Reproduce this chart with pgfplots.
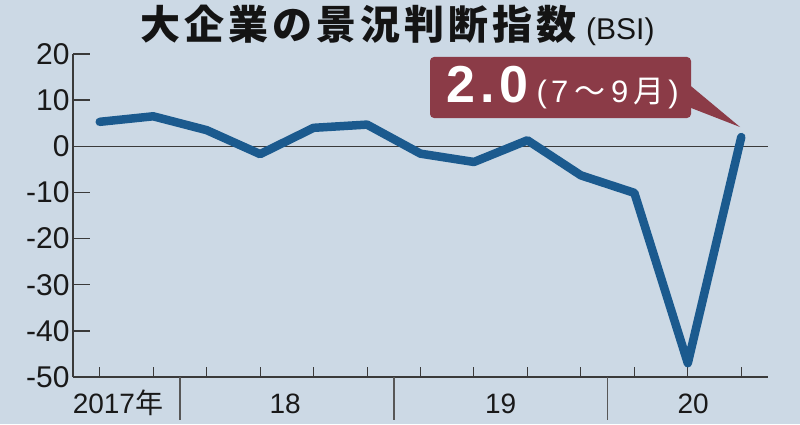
\documentclass[border=0pt]{standalone}
\usepackage{fontspec}
\setmainfont{Liberation Sans}
\newfontfamily\cjk{Noto Sans CJK JP}
\usepackage{pgfplots}
\pgfplotsset{compat=1.18}
\definecolor{bg}{HTML}{CCD9E5}
\definecolor{ln}{HTML}{1B5A8E}
\definecolor{bx}{HTML}{8B3B47}
\definecolor{ax}{HTML}{3A3A3A}
\begin{document}
\begin{tikzpicture}[x=1pt,y=1pt]
\useasboundingbox (0,0) rectangle (800,424);
\fill[bg] (0,0) rectangle (800,424);
\begin{axis}[
  at={(73pt,47pt)}, anchor=south west,
  scale only axis, width=695pt, height=323pt,
  xmin=-0.5, xmax=12.5, ymin=-50, ymax=20,
  axis x line=bottom, axis y line=left,
  axis line style={-, ax, line width=1.3pt},
  xtick={0,...,12}, xticklabels={\empty},
  ytick={-50,-40,...,20}, yticklabels={-50,-40,-30,-20,-10,0,10,20},
  tick align=inside, major tick length=17pt,
  xtick style={/pgfplots/major tick length=10pt, ax, line width=1pt},
  ytick style={ax, line width=1.3pt},
  yticklabel style={font=\fontsize{30}{30}\selectfont, text=black!90},
  clip=false,
]
\draw[ax, line width=1.2pt] (axis cs:-0.5,0) -- (axis cs:12.5,0);
\addplot[ln, line width=8.5pt, line join=round, line cap=round] coordinates {
  (0,5.3)(1,6.5)(2,3.5)(3,-1.7)(4,4.0)(5,4.7)(6,-1.6)(7,-3.4)(8,1.3)(9,-6.3)(10,-10.1)(11,-47.0)(12,2.0)};
\pgfplotsinvokeforeach{1.5,5.5,9.5}{
  \draw[ax!85, line width=1.5pt] (axis cs:#1,-50) -- ++(0pt,-43pt);
}
\node[anchor=base, inner sep=0, font=\fontsize{28}{28}\selectfont, text=black!90] at ([yshift=-36pt]axis cs:0.34,-50) {2017{\cjk 年}};
\node[anchor=base, inner sep=0, font=\fontsize{28}{28}\selectfont, text=black!90] at ([yshift=-36pt]axis cs:3.47,-50) {18};
\node[anchor=base, inner sep=0, font=\fontsize{28}{28}\selectfont, text=black!90] at ([yshift=-36pt]axis cs:7.5,-50) {19};
\node[anchor=base, inner sep=0, font=\fontsize{28}{28}\selectfont, text=black!90] at ([yshift=-36pt]axis cs:11.1,-50) {20};
\end{axis}
\node[anchor=base west, inner sep=0, text=black!92] at (140,384)
  {{\cjk\bfseries\fontsize{40}{40}\selectfont\addfontfeature{LetterSpace=10}大企業の景況判断指数}\hspace{10pt}{\fontsize{30}{30}\selectfont (BSI)}};
\fill[bx, rounded corners=4pt] (430,306) rectangle (691,367);
\fill[bx] (686,342) -- (740,297) -- (686,318) -- cycle;
\node[anchor=base west, inner sep=0, text=white, font=\bfseries\fontsize{52}{52}\selectfont] at (446,321) {\addfontfeature{LetterSpace=10}2.0};
\node[anchor=base east, inner sep=0, text=white, font=\fontsize{31}{31}\selectfont] at (679,321)
  {(\hspace{4pt}7\hspace{6pt}{\cjk ～}\hspace{6pt}9\hspace{5pt}{\cjk 月}\hspace{4pt})};
\end{tikzpicture}
\end{document}
